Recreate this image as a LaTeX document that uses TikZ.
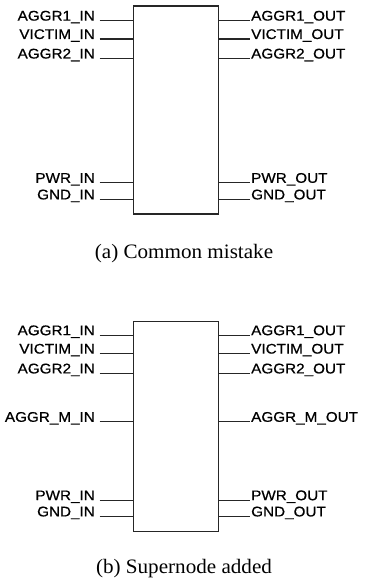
\documentclass[tikz,border=0pt]{standalone}
\usepackage{fontspec}
\usepackage{graphicx}
\newfontfamily\pinfont[FakeBold=0.6]{Liberation Sans}
\newfontfamily\capfont{Liberation Serif}
\newcommand\pinlbl[1]{\scalebox{1.09}[1]{#1}}
\newcommand\caplbl[1]{\scalebox{1.03}[1]{#1}}
\tikzset{
  block/.style={draw=black!85, line width=1.3pt, inner sep=0pt, anchor=north west,
                minimum width=85pt},
  lblL/.style={anchor=base east, inner sep=0pt, text=black,
               font=\pinfont\fontsize{14}{14}\selectfont},
  lblR/.style={anchor=base west, inner sep=0pt, text=black,
               font=\pinfont\fontsize{14}{14}\selectfont},
  pin/.style={draw=black!85, line width=1.2pt},
  captext/.style={anchor=base, inner sep=0pt, font=\capfont\fontsize{20.5}{20.5}\selectfont}
}
\begin{document}
\begin{tikzpicture}[x=1pt,y=-1pt]
\useasboundingbox (0,0) rectangle (364,580);

% ---- (a) block with its pins ----
\node[block, minimum height=208pt] (boxA) at (133,5.3) {};
\foreach \nm/\yy/\lin/\lout in {
  a1/20.6/AGGR1\_IN/AGGR1\_OUT,
  vi/39.0/VICTIM\_IN/VICTIM\_OUT,
  a2/58.5/AGGR2\_IN/AGGR2\_OUT,
  pw/182.8/PWR\_IN/PWR\_OUT,
  gn/199.4/GND\_IN/GND\_OUT} {
  \node[lblL] (A\nm in) at (95,\yy) {\pinlbl{\lin}};
  \node[lblR] (A\nm out) at (251,\yy) {\pinlbl{\lout}};
  \draw[pin] ([xshift=4.5pt]A\nm in.base east) -- (boxA.west |- A\nm in.base);
  \draw[pin] (boxA.east |- A\nm out.base) -- ([xshift=-1.5pt]A\nm out.base west);
}
\node[captext] (capA) at (184,258.3) {\caplbl{(a) Common mistake}};

% ---- (b) block with the extra supernode pin ----
\node[block, minimum height=210pt] (boxB) at (133,320.7) {};
\foreach \nm/\yy/\lin/\lout in {
  a1/335.2/AGGR1\_IN/AGGR1\_OUT,
  vi/353.6/VICTIM\_IN/VICTIM\_OUT,
  a2/373.4/AGGR2\_IN/AGGR2\_OUT,
  am/421.8/AGGR\_M\_IN/AGGR\_M\_OUT,
  pw/500.2/PWR\_IN/PWR\_OUT,
  gn/516.4/GND\_IN/GND\_OUT} {
  \node[lblL] (B\nm in) at (95,\yy) {\pinlbl{\lin}};
  \node[lblR] (B\nm out) at (251,\yy) {\pinlbl{\lout}};
  \draw[pin] ([xshift=4.5pt]B\nm in.base east) -- (boxB.west |- B\nm in.base);
  \draw[pin] (boxB.east |- B\nm out.base) -- ([xshift=-1.5pt]B\nm out.base west);
}
\node[captext] (capB) at (184,573.3) {\caplbl{(b) Supernode added}};
\end{tikzpicture}
\end{document}
